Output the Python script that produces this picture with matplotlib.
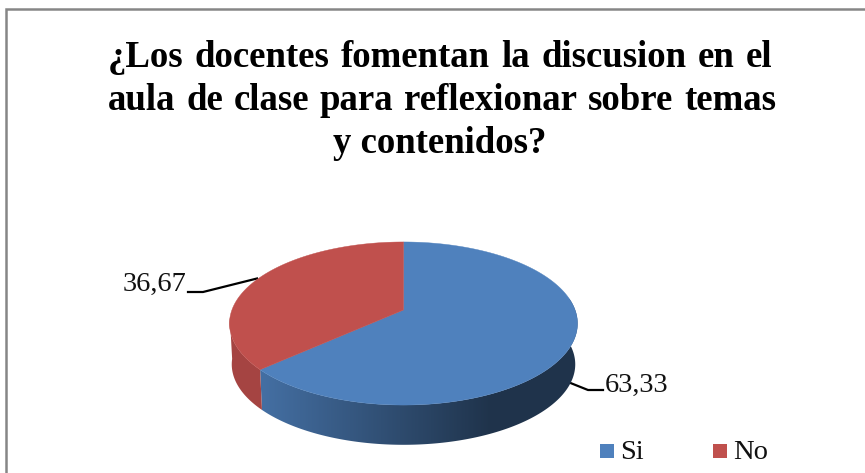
import numpy as np
import matplotlib
matplotlib.use("Agg")
import matplotlib.pyplot as plt
from matplotlib.colors import LinearSegmentedColormap, to_rgb
from matplotlib.patches import Polygon

title_lines = ["¿Los docentes fomentan la discusion en el",
               "aula de clase para reflexionar sobre temas",
               "y contenidos?"]
labels = ["Si", "No"]
values = [63.33, 36.67]
value_labels = ["63,33", "36,67"]
colors = ["#4f81bd", "#c0504d"]

plt.rcParams['font.family'] = ['Liberation Serif', 'DejaVu Serif']

fig = plt.figure(figsize=(8.65, 4.73), dpi=100)
ax = fig.add_axes([0, 0, 1, 1])
# axes run in picture pixels, y going down
ax.set_xlim(0, 865)
ax.set_ylim(473, 0)
ax.axis("off")

# perspective of the tilted pie
cx, cy = 403.5, 310
C, A, k = 171.6, 79.3, 0.1656


def project(theta, scale=1.0, shift=0.0):
    u, v = np.cos(theta), np.sin(theta)
    d = 1 + k * v
    return cx + scale * C * u / d, cy + shift - scale * A * v / d


# chart frame
ax.plot([6, 6, 865], [473, 9, 9], color="#868686", lw=1.8, solid_joinstyle="miter")

# slice angles, clockwise from the top
start = np.pi / 2
slices = []
for val in values:
    end = start - 2 * np.pi * val / sum(values)
    slices.append((start, end))
    start = end

# side wall: only the front part shows, from the left edge round to the right edge
split = slices[0][1]
wall_ranges = [(split, 0.2), (np.pi + 0.1, split + 2 * np.pi)]
base_blue = np.array(to_rgb(colors[0]))
base_red = np.array(to_rgb(colors[1]))
wall_cmaps = [
    LinearSegmentedColormap.from_list("bw", [base_blue * 0.86, base_blue * 0.40]),
    LinearSegmentedColormap.from_list("rw", [base_red * 0.86, base_red * 0.86]),
]
ramp_x = np.linspace(220, 590, 512)
ramp = np.clip((ramp_x - 262) / (490 - 262), 0, 1).reshape(1, -1)

for (a0, a1), cmap in zip(wall_ranges, wall_cmaps):
    ts = np.linspace(a0, a1, 300)
    x0, y0 = project(ts)
    x1, y1 = project(ts[::-1], 0.987, 41)
    poly = Polygon(np.c_[np.r_[x0, x1], np.r_[y0, y1]], closed=True, fc="none", ec="none")
    ax.add_patch(poly)
    im = ax.imshow(ramp, cmap=cmap, vmin=0, vmax=1, aspect="auto",
                   extent=(220, 590, 460, 300), zorder=2)
    im.set_clip_path(poly)
ax.set_xlim(0, 865)
ax.set_ylim(473, 0)

# top face
for (a0, a1), col in zip(slices, colors):
    ts = np.linspace(a0, a1, 300)
    x, y = project(ts)
    ax.fill(np.r_[cx, x], np.r_[cy, y], color=col, lw=0.3, zorder=3)

# leader lines and value labels
ax.plot([568, 588, 603], [382, 390, 390], color="black", lw=1.6, zorder=1)
ax.plot([188, 203, 257], [292, 292, 278.5], color="black", lw=1.6, zorder=1)
ax.text(605, 392, value_labels[0], fontsize=20.5, va="baseline", ha="left", color="#111111")
ax.text(187, 291, value_labels[1], fontsize=20.5, va="baseline", ha="right", color="#111111")

# legend
for x0, txt_x, lab, col in zip([600, 713], [620, 733], labels, colors):
    ax.fill([x0, x0 + 14, x0 + 14, x0], [444, 444, 458, 458], color=col, lw=0)
    ax.text(txt_x, 459, lab, fontsize=20.5, va="baseline", ha="left", color="#111111")

# title, first two lines are justified in the original
renderer = fig.canvas.get_renderer()
for line, base_y, left, right in zip(title_lines, [67, 110, 153], [108, 108, None], [772, 776, None]):
    if left is None:
        ax.text(440, base_y, line, fontsize=26.5, fontweight="bold", ha="center", va="baseline")
        continue
    words = line.split(" ")
    widths = []
    texts = []
    for w in words:
        t = ax.text(0, base_y, w, fontsize=26.5, fontweight="bold", ha="left", va="baseline")
        widths.append(t.get_window_extent(renderer).width)
        texts.append(t)
    gap = (right - left - sum(widths)) / (len(words) - 1)
    x = left
    for t, w in zip(texts, widths):
        t.set_x(x)
        x += w + gap

fig.savefig("out.png", dpi=100)
